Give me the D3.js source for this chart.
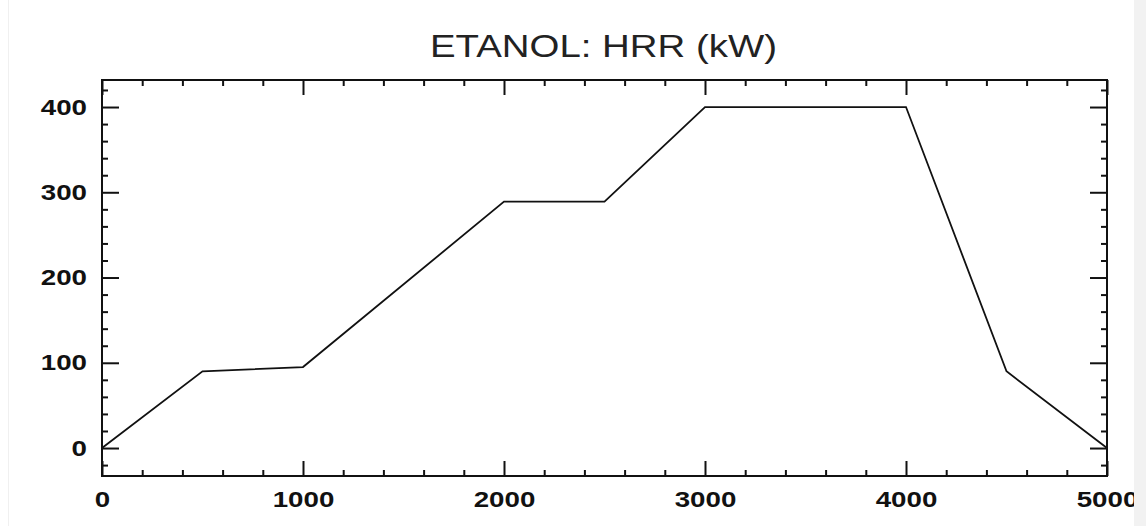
<!DOCTYPE html>
<html>
<head>
<meta charset="utf-8">
<script src="https://cdn.jsdelivr.net/npm/d3@7"></script>
<style>
  html, body { margin: 0; padding: 0; background: #ffffff; }
  svg { display: block; }
</style>
</head>
<body>
<svg id="chart" width="1146" height="526"></svg>
<script>
// Heat release rate curve for ethanol
const titleText = "ETANOL: HRR (kW)";
const timeValues = [0, 500, 1000, 2000, 2500, 3000, 4000, 4500, 5000];
const hrrValues  = [0, 90, 95, 289, 289, 400, 400, 90, 0];
const xMajorTicks = [0, 1000, 2000, 3000, 4000, 5000];
const yMajorTicks = [0, 100, 200, 300, 400];

const W = 1146, H = 526;
const plot = { left: 102, right: 1107, top: 80, bottom: 476 };
const textStretch = 1.26;

const svg = d3.select("#chart");

const x = d3.scaleLinear().domain([0, 5000]).range([plot.left, plot.right]);
const y = d3.scaleLinear().domain([-32.8, 431.7]).range([plot.bottom, plot.top]);

const xMinor = d3.range(0, 5001, 200).filter(v => v % 1000 !== 0);
const yMinor = d3.range(-20, 421, 20).filter(v => v % 100 !== 0);

// faint page edges
svg.append("rect").attr("x", 0).attr("y", 0).attr("width", W).attr("height", H).attr("fill", "#fff");
svg.append("line").attr("x1", 8.5).attr("x2", 8.5).attr("y1", 0).attr("y2", H)
  .attr("stroke", "#f0f0f0").attr("stroke-width", 1);

// data line
const line = d3.line().x((d, i) => x(timeValues[i])).y(d => y(d));
svg.append("path")
  .datum(hrrValues)
  .attr("d", line)
  .attr("fill", "none")
  .attr("stroke", "#111")
  .attr("stroke-width", 1.8)
  .attr("stroke-linejoin", "miter");

function styleAxis(g) {
  g.select(".domain").remove();
  g.selectAll(".tick line").attr("stroke", "#111").attr("stroke-width", 2);
}

// minor ticks on all four sides
svg.append("g").attr("transform", `translate(0,${plot.bottom})`)
  .call(d3.axisBottom(x).tickValues(xMinor).tickSize(-6).tickFormat(""))
  .call(styleAxis);
svg.append("g").attr("transform", `translate(0,${plot.top})`)
  .call(d3.axisTop(x).tickValues(xMinor).tickSize(-6).tickFormat(""))
  .call(styleAxis);
svg.append("g").attr("transform", `translate(${plot.left},0)`)
  .call(d3.axisLeft(y).tickValues(yMinor).tickSize(-6).tickFormat(""))
  .call(styleAxis);
svg.append("g").attr("transform", `translate(${plot.right},0)`)
  .call(d3.axisRight(y).tickValues(yMinor).tickSize(-6).tickFormat(""))
  .call(styleAxis);

// major ticks with labels (bottom and left)
const xAxis = svg.append("g").attr("transform", `translate(0,${plot.bottom})`)
  .call(d3.axisBottom(x).tickValues(xMajorTicks).tickSize(-15).tickPadding(15).tickFormat(d3.format("d")))
  .call(styleAxis);
svg.append("g").attr("transform", `translate(0,${plot.top})`)
  .call(d3.axisTop(x).tickValues(xMajorTicks).tickSize(-15).tickFormat(""))
  .call(styleAxis);
const yAxis = svg.append("g").attr("transform", `translate(${plot.left},0)`)
  .call(d3.axisLeft(y).tickValues(yMajorTicks).tickSize(-17).tickPadding(15).tickFormat(d3.format("d")))
  .call(styleAxis);
svg.append("g").attr("transform", `translate(${plot.right},0)`)
  .call(d3.axisRight(y).tickValues(yMajorTicks).tickSize(-17).tickFormat(""))
  .call(styleAxis);

// tick label typography (wide sans)
[xAxis, yAxis].forEach(g => {
  g.selectAll(".tick text")
    .attr("fill", "#111")
    .style("font-family", "'Liberation Sans', Arial, sans-serif")
    .style("font-size", "22px")
    .style("font-weight", "bold");
});
xAxis.selectAll(".tick text").attr("transform", `scale(${textStretch},1)`);
yAxis.selectAll(".tick text")
  .attr("x", -15 / textStretch)
  .attr("transform", `scale(${textStretch},1)`);

// frame
svg.append("rect")
  .attr("x", plot.left).attr("y", plot.top)
  .attr("width", plot.right - plot.left).attr("height", plot.bottom - plot.top)
  .attr("fill", "none").attr("stroke", "#111").attr("stroke-width", 2);

// title
const cx = (plot.left + plot.right) / 2;
svg.append("text")
  .attr("transform", `translate(${cx - 1},57) scale(${textStretch},1)`)
  .attr("text-anchor", "middle")
  .attr("fill", "#222")
  .style("font-family", "'Liberation Sans', Arial, sans-serif")
  .style("font-size", "30.5px")
  .text(titleText);

// light window edge on the right
svg.append("rect").attr("x", 1134).attr("y", 0).attr("width", W - 1134).attr("height", H)
  .attr("fill", "#f2f2f2");
</script>
</body>
</html>
